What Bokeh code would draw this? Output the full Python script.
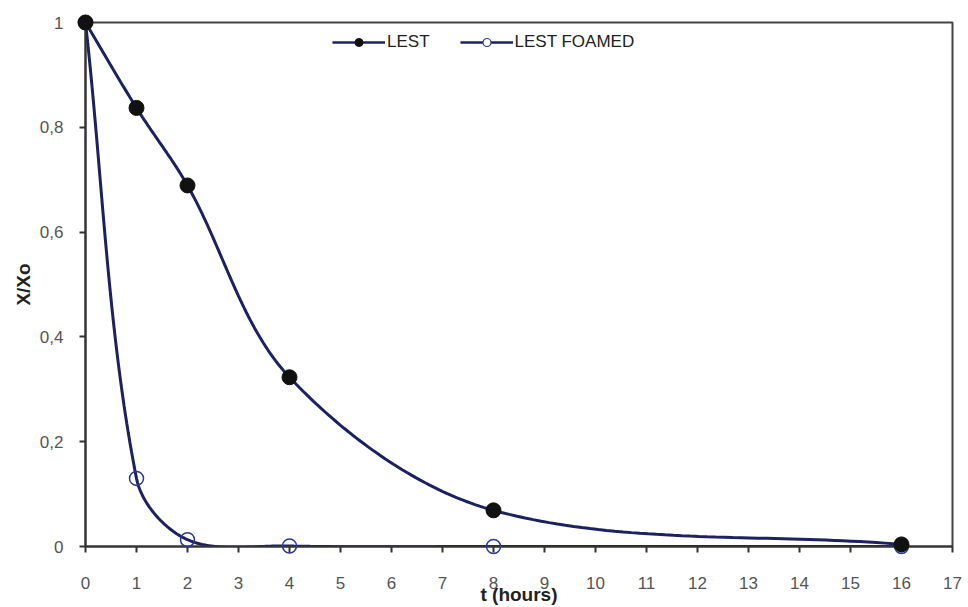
import numpy as np
from bokeh.plotting import figure
from bokeh.models import FixedTicker, Legend, LegendItem, ColumnDataSource
from bokeh.embed import file_html
from bokeh.resources import INLINE

# data
t_hours = [0, 1, 2, 4, 8, 16]
lest = [1.0, 0.837, 0.689, 0.323, 0.069, 0.004]
lest_foamed = [1.0, 0.13, 0.013, 0.001, 0.0, 0.0]
x_ticks = list(range(0, 18))
y_ticks = [0, 0.2, 0.4, 0.6, 0.8, 1.0]
y_tick_labels = ["0", "0,2", "0,4", "0,6", "0,8", "1"]

LINE = "#1e2160"
FONT = "Liberation Sans"
XSCALE = 867.0 / 17.0   # px per hour (frame)
YSCALE = 524.0          # px per unit


def smooth(xs, ys, n=50):
    """Excel-like smoothed line: Bezier segments, tangents scaled by segment lengths."""
    P = np.column_stack([np.asarray(xs, float) * XSCALE, np.asarray(ys, float) * YSCALE])
    m = len(P)
    d = [np.hypot(*(P[i + 1] - P[i])) for i in range(m - 1)]
    out = []
    for i in range(m - 1):
        p0, p3 = P[i], P[i + 1]
        if i > 0:
            T0 = P[i + 1] - P[i - 1]
            c1 = p0 + T0 * (d[i] / (d[i - 1] + d[i])) / 3.0
        else:
            c1 = p0 + (p3 - p0) / 3.0
        if i + 2 < m:
            T1 = P[i + 2] - P[i]
            c2 = p3 - T1 * (d[i] / (d[i] + d[i + 1])) / 3.0
        else:
            c2 = p3 - (p3 - p0) / 3.0
        tt = np.linspace(0, 1, n)[:, None]
        seg = ((1 - tt) ** 3) * p0 + 3 * ((1 - tt) ** 2) * tt * c1 + 3 * (1 - tt) * tt ** 2 * c2 + tt ** 3 * p3
        out.append(seg if i == 0 else seg[1:])
    arr = np.vstack(out)
    return arr[:, 0] / XSCALE, arr[:, 1] / YSCALE


p = figure(width=968, height=607, output_backend="svg", toolbar_location=None,
           x_range=(0, 17), y_range=(0, 1),
           min_border_left=85, min_border_right=16, min_border_top=22, min_border_bottom=61)

p.background_fill_color = "white"
p.border_fill_color = "white"
p.outline_line_color = "#444444"
p.outline_line_width = 2
p.xgrid.visible = False
p.ygrid.visible = False

sx, sy = smooth(t_hours, lest)
fx, fy = smooth(t_hours, lest_foamed)

p.line(fx, fy, line_color=LINE, line_width=3)
p.line(sx, sy, line_color=LINE, line_width=3)
p.scatter(t_hours, lest_foamed, size=14, marker="circle", fill_color=None,
          line_color="#2b3a8f", line_width=1.5, level="overlay")
p.scatter(t_hours, lest, size=15, marker="circle", fill_color="#111111",
          line_color="#111111", level="overlay")

# legend-only renderers (smaller markers), no visible data
nan = float("nan")
empty = ColumnDataSource(data=dict(x=[nan], y=[nan]))
l1 = p.line("x", "y", source=empty, line_color=LINE, line_width=2.5)
m1 = p.scatter("x", "y", source=empty, size=8, fill_color="#111111", line_color="#111111")
l2 = p.line("x", "y", source=empty, line_color=LINE, line_width=2.5)
m2 = p.scatter("x", "y", source=empty, size=8, fill_color="white", line_color="#2b3a8f", line_width=1.2)

legend = Legend(items=[LegendItem(label="LEST", renderers=[l1, m1], index=0),
                       LegendItem(label="LEST FOAMED", renderers=[l2, m2], index=0)],
                orientation="horizontal", location=(247, 494),
                glyph_width=53, glyph_height=20, label_height=20,
                label_standoff=2, spacing=30, padding=0, margin=0,
                border_line_color=None, background_fill_alpha=0,
                label_text_font=FONT, label_text_font_size="17px", label_text_color="#222222")
p.add_layout(legend, "center")

# axes
for ax in (p.xaxis[0], p.yaxis[0]):
    ax.axis_line_color = "#333333"
    ax.axis_line_width = 2
    ax.major_tick_line_color = "#333333"
    ax.major_tick_line_width = 2
    ax.major_tick_out = 6
    ax.major_tick_in = 0
    ax.minor_tick_line_color = None
    ax.major_label_text_font = FONT
    ax.major_label_text_font_size = "17px"
    ax.major_label_text_color = "#555555"
    ax.axis_label_text_font = FONT
    ax.axis_label_text_font_style = "bold"
    ax.axis_label_text_font_size = "19px"
    ax.axis_label_text_color = "#222222"

p.xaxis[0].ticker = FixedTicker(ticks=x_ticks)
p.xaxis[0].major_label_standoff = 24
p.xaxis[0].axis_label = "t (hours)"
p.xaxis[0].axis_label_standoff = -8

p.yaxis[0].ticker = FixedTicker(ticks=y_ticks)
p.yaxis[0].major_label_overrides = {v: s for v, s in zip(y_ticks, y_tick_labels)}
p.yaxis[0].major_label_standoff = 16
p.yaxis[0].axis_label = "X/Xo"
p.yaxis[0].axis_label_standoff = 3

open("out.html", "w").write(file_html(p, INLINE))
